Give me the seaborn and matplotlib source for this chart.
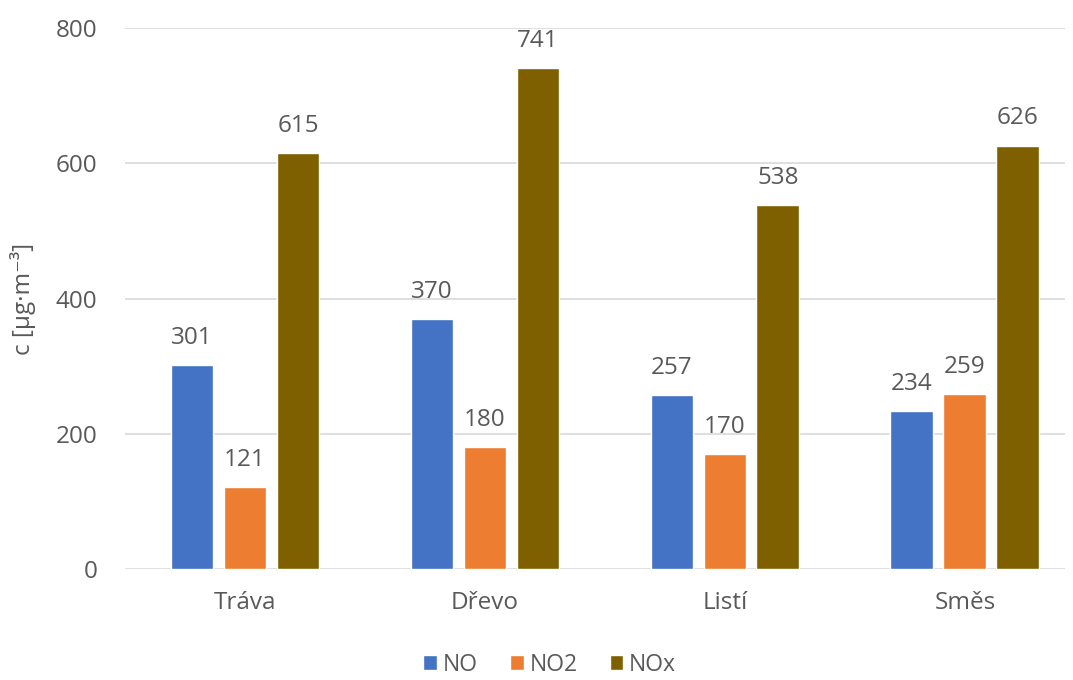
import matplotlib
matplotlib.use("Agg")
import matplotlib.pyplot as plt
import seaborn as sns
import pandas as pd

categories = ["Tráva", "Dřevo", "Listí", "Směs"]
series = ["NO", "NO2", "NOx"]
no_values = [301, 370, 257, 234]
no2_values = [121, 180, 170, 259]
nox_values = [615, 741, 538, 626]
y_ticks = [0, 200, 400, 600, 800]
colors = ["#4472C4", "#ED7D31", "#7F6000"]

rows = []
for name, vals in zip(series, [no_values, no2_values, nox_values]):
    for cat, v in zip(categories, vals):
        rows.append({"kategorie": cat, "latka": name, "c": v})
df = pd.DataFrame(rows)

sns.set_theme(style="white")
plt.rcParams["font.family"] = ["Open Sans", "DejaVu Sans"]
text_color = "#595959"

fig = plt.figure(figsize=(10.73, 6.8), dpi=100)
ax = fig.add_axes([0.1165, 0.1632, 0.8760, 0.7956])

sns.barplot(data=df, x="kategorie", y="c", hue="latka", order=categories,
            hue_order=series, palette=colors, width=0.6625, gap=0.19,
            saturation=1, ax=ax, errorbar=None, legend=True)

for cont in ax.containers:
    ax.bar_label(cont, fmt="%d", padding=11, fontsize=17.5, color=text_color)

ax.set_ylim(0, 800)
ax.set_yticks(y_ticks)
ax.set_xlim(-0.5, 3.4167)
ax.yaxis.grid(True, color="#D9D9D9", linewidth=1.2)
ax.set_axisbelow(True)
for s in ax.spines.values():
    s.set_visible(False)
ax.tick_params(axis="both", length=0, labelsize=17.5, colors=text_color)
ax.tick_params(axis="y", pad=20)
ax.tick_params(axis="x", pad=16)
ax.set_xlabel("")
ax.set_ylabel("c [µg·m⁻³]", fontsize=17.5, color=text_color, labelpad=14)

handles, labels = ax.get_legend_handles_labels()
ax.legend(handles, labels, loc="center", bbox_to_anchor=(0.452, -0.177),
          ncol=3, frameon=False, fontsize=16.5, handlelength=0.6,
          handleheight=0.6, handletextpad=0.25, columnspacing=1.4,
          labelcolor=text_color)

fig.savefig("out.png", dpi=100)
